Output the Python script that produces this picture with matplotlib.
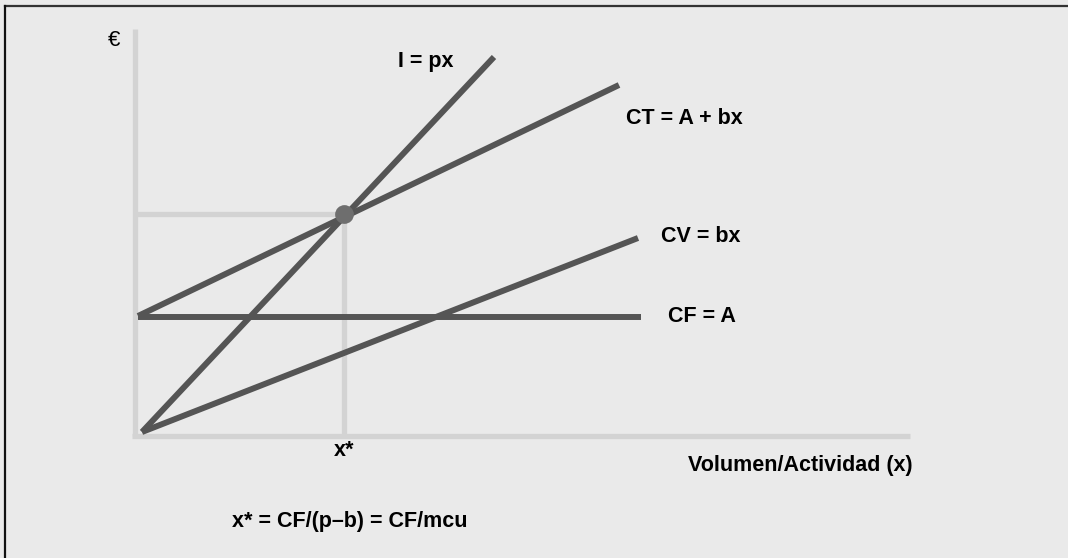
import matplotlib
matplotlib.use("Agg")
import matplotlib.pyplot as plt
from matplotlib.lines import Line2D

# Break-even chart (schematic), values in arbitrary units
cf_level = 23.0                       # CF = A
be_x, be_y = 40.4, 43.6               # break-even point x*
ingresos_x = [0.0, 70.4]              # I = px
ingresos_y = [0.0, 75.0]
ct_x = [-0.8, 95.4]                   # CT = A + bx
ct_y = [23.2, 69.4]
cv_x = [0.0, 99.2]                    # CV = bx
cv_y = [0.0, 38.8]
cf_x = [-0.8, 99.8]

labels = ["I = px", "CT = A + bx", "CV = bx", "CF = A"]
label_pos = [(51.2, 74.0), (96.8, 62.8), (103.8, 39.0), (105.2, 23.2)]

plt.rcParams['font.family'] = ['Liberation Sans', 'DejaVu Sans']

bg = "#eaeaea"
axis_col = "#d3d3d3"
line_col = "#555555"
fs = 15.5

fig = plt.figure(figsize=(10.68, 5.58), dpi=100)
fig.patch.set_facecolor(bg)
ax = fig.add_axes([0, 0, 1, 1])
ax.set_facecolor(bg)
ax.set_xlim(-28.4, 185.2)
ax.set_ylim(-25.2, 86.4)
ax.axis("off")

# frame of the figure (only top and left visible)
fig.add_artist(Line2D([4.5 / 1068, 1], [1 - 5.5 / 558] * 2, color="#333333", lw=1.6))
fig.add_artist(Line2D([4.5 / 1068] * 2, [0, 1 - 5.5 / 558], color="#111111", lw=1.6))

# axes
ax.plot([-1.5, -1.5], [-0.8, 80.6], color=axis_col, lw=3.8, solid_capstyle="butt", zorder=1)
ax.plot([-2.0, 153.6], [-0.8, -0.8], color=axis_col, lw=3.8, solid_capstyle="butt", zorder=1)

# guides to the break-even point
ax.plot([be_x, be_x], [-0.8, be_y], color=axis_col, lw=3.8, solid_capstyle="butt", zorder=1)
ax.plot([-1.5, be_x], [be_y, be_y], color=axis_col, lw=3.8, solid_capstyle="butt", zorder=1)

# lines
lw = 4.3
ax.plot(cf_x, [cf_level, cf_level], color=line_col, lw=lw, solid_capstyle="butt", zorder=2)
ax.plot(ct_x, ct_y, color=line_col, lw=lw, solid_capstyle="butt", zorder=2)
ax.plot(cv_x, cv_y, color=line_col, lw=lw, solid_capstyle="butt", zorder=2)
ax.plot(ingresos_x, ingresos_y, color=line_col, lw=lw, solid_capstyle="butt", zorder=2)
ax.plot([be_x], [be_y], "o", color="#6e6e6e", ms=13.5, mec="none", zorder=3)

# labels
for txt, (lx, ly) in zip(labels, label_pos):
    ax.text(lx, ly, txt, fontsize=fs, fontweight="bold", ha="left", va="center")

ax.text(be_x, -3.6, "x*", fontsize=fs, fontweight="bold", ha="center", va="center")
ax.text(154.2, -6.8, "Volumen/Actividad (x)", fontsize=fs, fontweight="bold", ha="right", va="center")
ax.text(18.0, -18.0, "x* = CF/(p–b) = CF/mcu", fontsize=fs, fontweight="bold", ha="left", va="center")
ax.text(-5.6, 78.4, "€", fontsize=16, ha="center", va="center")

fig.savefig("out.png", dpi=100, facecolor=bg)
